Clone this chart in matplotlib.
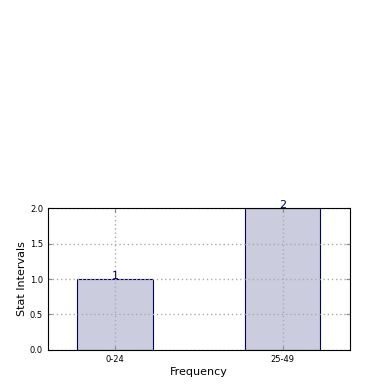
import matplotlib
matplotlib.use("Agg")
import matplotlib.pyplot as plt
import numpy as np

categories = ["0-24", "25-49"]
counts = [1, 2]

fig = plt.figure(figsize=(3.9, 3.9), dpi=100)
ax = fig.add_axes([0.123, 0.1026, 0.774, 0.364])

x = np.arange(len(categories))
ax.bar(x, counts, width=0.45, color="#ccccdf", edgecolor="#000066", linewidth=0.8, zorder=2)
for xi, c in zip(x, counts):
    ax.text(xi, c - 0.03, str(c), ha="center", va="bottom", color="#000066", fontsize=8)

ax.set_xlim(-0.4, 1.4)
ax.set_ylim(0, 2.0)
ax.set_yticks([0.0, 0.5, 1.0, 1.5, 2.0])
ax.set_xticks(x)
ax.set_xticklabels(categories, fontsize=6)
ax.tick_params(axis="y", labelsize=6)
ax.tick_params(direction="in", top=True, right=True, length=3, color="#888888")
ax.grid(True, linestyle=(0, (1, 2)), color="#aaaaaa", linewidth=1.0, zorder=3)
ax.set_axisbelow(False)
for s in ax.spines.values():
    s.set_zorder(5)
ax.set_xlabel("Frequency", fontsize=8, labelpad=2)
ax.set_ylabel("Stat Intervals", fontsize=8, labelpad=2)

fig.savefig("out.png", dpi=100)
